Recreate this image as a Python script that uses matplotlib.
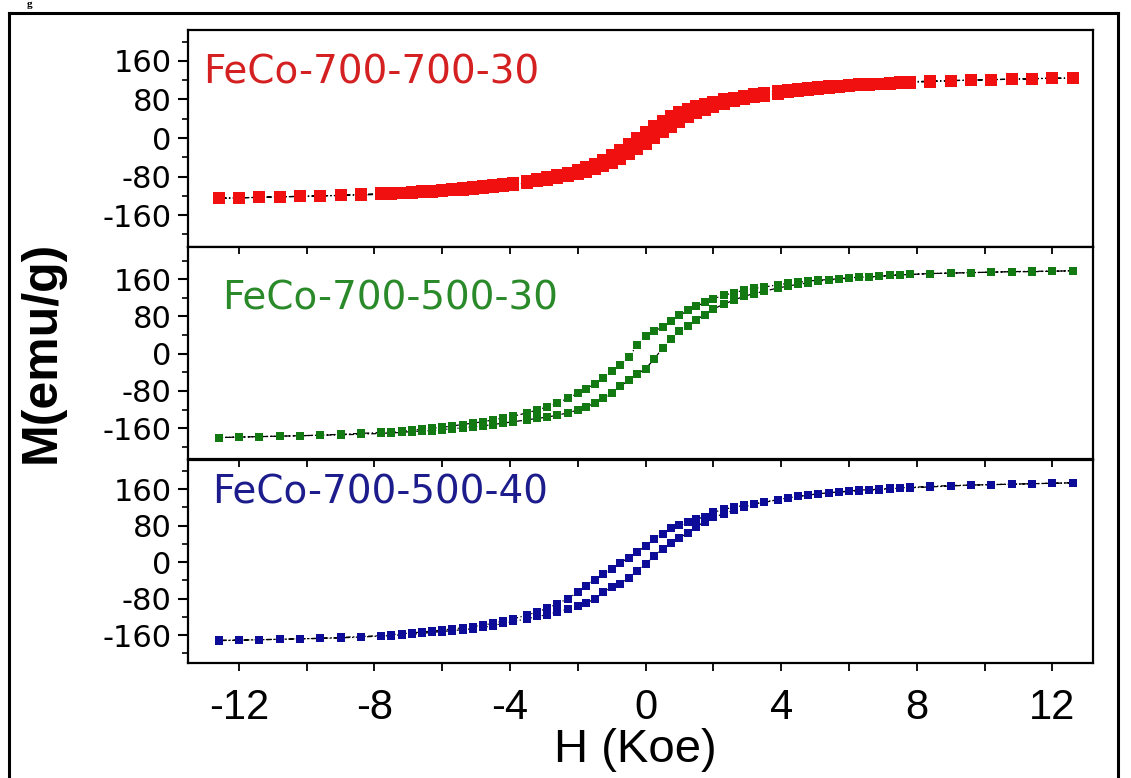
import matplotlib
matplotlib.use("Agg")
import matplotlib.pyplot as plt
from matplotlib.lines import Line2D
from matplotlib.ticker import MultipleLocator

plt.rcParams['axes.unicode_minus'] = False

# field sweep (Koe), descending branch; ascending branch uses the same fields reversed
h_down = [12.6, 12.0, 11.4, 10.8, 10.2, 9.6, 9.0, 8.4,
          7.8, 7.5, 7.2, 6.9, 6.6, 6.3, 6.0, 5.7, 5.4, 5.1, 4.8, 4.5, 4.2, 3.9,
          3.5, 3.2, 2.9, 2.6, 2.3, 2.0,
          1.75, 1.5, 1.25, 1.0, 0.75, 0.5, 0.25,
          0.0,
          -0.25, -0.5, -0.75, -1.0, -1.25, -1.5, -1.75,
          -2.0, -2.3, -2.6, -2.9, -3.2, -3.5,
          -3.9, -4.2, -4.5, -4.8, -5.1, -5.4, -5.7, -6.0, -6.3, -6.6, -6.9, -7.2, -7.5, -7.8,
          -8.4, -9.0, -9.6, -10.2, -10.8, -11.4, -12.0, -12.6]
h_up = h_down[::-1]

# M (emu/g)
red_down = [124, 124, 123, 122, 121, 120, 119, 118,
            117, 116, 115, 113, 112, 111, 110, 108, 107, 105, 103, 101, 99, 97,
            94, 91, 88, 84, 80, 75,
            71, 66, 60, 53, 45, 35, 24,
            12,
            0, -12, -24, -35, -45, -53, -60,
            -66, -72, -77, -81, -85, -89,
            -93, -95, -98, -100, -102, -104, -106, -107, -109, -110, -111, -113, -114, -115,
            -117, -119, -120, -121, -122, -123, -124, -125]
red_up = [-125, -124, -123, -122, -121, -120, -119, -118,
          -117, -116, -115, -113, -112, -111, -110, -108, -107, -105, -103, -101, -99, -97,
          -93, -90, -87, -83, -79, -74,
          -70, -65, -59, -52, -44, -34, -23,
          -12,
          0, 12, 23, 34, 44, 52, 59,
          65, 71, 76, 81, 85, 88,
          92, 95, 97, 100, 102, 104, 106, 107, 109, 110, 111, 113, 114, 115,
          117, 119, 120, 121, 122, 123, 124, 124]

green_down = [178, 177, 176, 176, 175, 174, 173, 172,
              170, 169, 168, 166, 165, 164, 163, 161, 159, 158, 156, 153, 151, 148,
              143, 140, 136, 131, 125, 118,
              110, 102, 93, 82, 70, 58, 48,
              38,
              18, -8, -24, -38, -52, -64, -75,
              -85, -96, -106, -114, -121, -127,
              -134, -138, -142, -146, -149, -152, -155, -158, -160, -162, -164, -166, -168, -169,
              -171, -173, -175, -176, -177, -178, -179, -180]
green_up = [-180, -179, -178, -177, -176, -175, -174, -173,
            -171, -170, -169, -167, -166, -165, -163, -161, -159, -157, -155, -152, -149, -146,
            -142, -139, -136, -132, -127, -121,
            -114, -106, -96, -84, -70, -57, -44,
            -32,
            -12, 12, 32, 48, 60, 73, 84,
            96, 106, 115, 123, 129, 134,
            141, 145, 149, 152, 156, 158, 160, 162, 164, 165, 166, 168, 169, 170,
            172, 173, 174, 175, 176, 177, 177, 178]

blue_down = [174, 173, 172, 171, 170, 169, 167, 165,
             163, 162, 161, 159, 158, 157, 155, 154, 152, 150, 147, 144, 141, 137,
             131, 128, 125, 120, 116, 109,
             100, 94, 87, 81, 74, 62, 50,
             36,
             22, 10, -2, -14, -26, -38, -52,
             -66, -80, -91, -101, -109, -116,
             -124, -129, -134, -138, -141, -144, -146, -149, -151, -153, -155, -157, -159, -161,
             -163, -165, -167, -168, -169, -170, -171, -171]
blue_up = [-172, -171, -170, -169, -168, -167, -166, -164,
           -162, -161, -159, -158, -156, -154, -152, -150, -148, -146, -143, -139, -134, -130,
           -124, -119, -115, -109, -103, -96,
           -89, -81, -66, -55, -47, -34, -20,
           -5,
           14, 28, 41, 54, 64, 78, 89,
           98, 106, 114, 121, 127, 132,
           137, 141, 144, 147, 150, 152, 154, 156, 158, 159, 160, 162, 163, 164,
           166, 168, 169, 170, 171, 172, 173, 174]

samples = ['FeCo-700-700-30', 'FeCo-700-500-30', 'FeCo-700-500-40']
marker_colors = ['#f01010', '#137a13', '#0c0c98']
text_colors = ['#d42020', '#2a8a2a', '#1c1c8c']
loops = [(red_down, red_up), (green_down, green_up), (blue_down, blue_up)]
marker_sizes = [8.0, 6.0, 6.0]

W, H = 1131, 778
fig = plt.figure(figsize=(W / 100, H / 100), dpi=100)

# panel boxes in pixels: (top, bottom)
left_px, right_px = 188, 1093
panel_px = [(30, 247), (247, 459), (460, 663)]
ylims = [(-226, 224), (-226, 229), (-221, 224)]
label_y_px = [73, 298, 492]
label_x_px = [203, 222, 212]

axes = []
for i, (top, bot) in enumerate(panel_px):
    ax = fig.add_axes([left_px / W, 1 - bot / H, (right_px - left_px) / W, (bot - top) / H])
    axes.append(ax)
    down, up = loops[i]
    hh = list(h_down) + list(h_up)
    mm = list(down) + list(up)
    ax.plot(hh, mm, color='black', lw=0.9, ls=(0, (4, 2, 1, 2)), zorder=1)
    ax.plot(hh, mm, ls='none', marker='s', ms=marker_sizes[i], mew=0,
            color=marker_colors[i], zorder=2)
    ax.set_xlim(-13.5, 13.2)
    ax.set_ylim(*ylims[i])
    ax.yaxis.set_major_locator(MultipleLocator(80))
    ax.yaxis.set_minor_locator(MultipleLocator(40))
    ax.tick_params(axis='y', which='major', direction='out', length=7, width=1.5,
                   pad=5, labelsize=22, right=False)
    ax.tick_params(axis='y', which='minor', direction='out', length=4, width=1.2, right=False)
    for lab in ax.get_yticklabels():
        lab.set_family('DejaVu Sans')
    for s in ax.spines.values():
        s.set_linewidth(1.6)
    ax.text((label_x_px[i] - left_px) / (right_px - left_px),
            (bot - label_y_px[i]) / (bot - top),
            samples[i], transform=ax.transAxes, color=text_colors[i],
            fontsize=28, family='DejaVu Sans', va='center', ha='left')

    ax.xaxis.set_major_locator(MultipleLocator(4))
    ax.xaxis.set_minor_locator(MultipleLocator(2))
    if i == 0:
        ax.tick_params(axis='x', which='both', bottom=False, top=False, labelbottom=False)
    elif i == 1:
        ax.tick_params(axis='x', which='both', bottom=False, top=True, direction='in',
                       length=5, width=1.3, labelbottom=False)
    else:
        ax.tick_params(axis='x', which='both', bottom=True, top=True, direction='out',
                       length=6, width=1.3)
        ax.tick_params(axis='x', which='major', labelsize=30, pad=12)
        for lab in ax.get_xticklabels():
            lab.set_family('Liberation Sans')

# bottom panel: outward ticks at the bottom, inward at the top
bax = axes[2]
for t in bax.xaxis.get_major_ticks() + bax.xaxis.get_minor_ticks():
    t.tick2line.set_marker(3)
    t.tick2line.set_markersize(5)

fig.text(635 / W, 1 - 750 / H, 'H (Koe)', fontsize=34, family='Liberation Sans',
         ha='center', va='center')
fig.text(42 / W, 1 - 352 / H, 'M(emu/g)', fontsize=36, family='Liberation Sans',
         weight='bold', rotation=90, ha='center', va='center')

# outer frame and the caption fragment above it
fx0, fx1, fy = 9 / W, 1118 / W, 1 - 13 / H
for xs, ys in [([fx0, fx0], [0, fy]), ([fx0, fx1], [fy, fy]), ([fx1, fx1], [fy, 0])]:
    fig.add_artist(Line2D(xs, ys, transform=fig.transFigure, color='black', lw=2.2))
fig.text(27 / W, 1.0, 'g', fontsize=8, family='Liberation Serif',
         weight='bold', va='top')

fig.savefig('out.png', dpi=100)
